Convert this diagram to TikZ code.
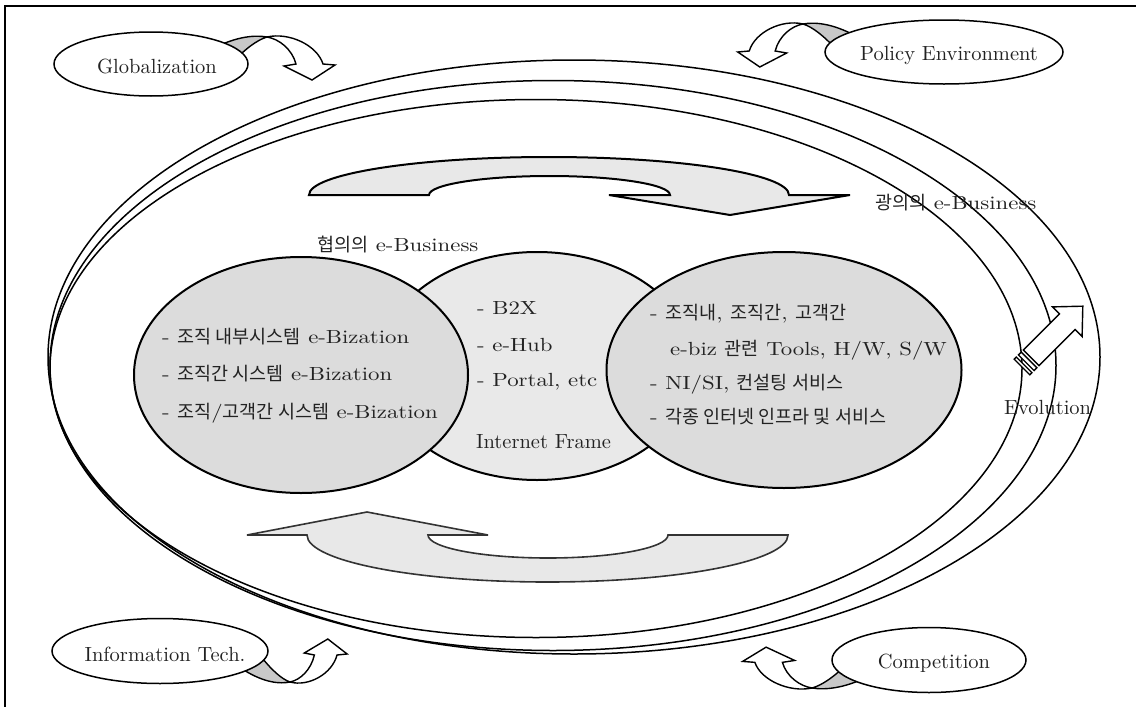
\documentclass[tikz,border=0pt]{standalone}
\usepackage{fontspec}
\usetikzlibrary{shapes.geometric}
\newfontfamily\krf{Noto Sans CJK KR}
\newfontfamily\vlat[FakeStretch=1.2]{lmroman10-regular.otf}
\newfontfamily\plat{lmroman10-regular.otf}
\newcommand\kr[1]{{\krf\fontsize{18.5}{21}\selectfont #1}}
\definecolor{txt}{HTML}{222222}
\definecolor{vennA}{HTML}{DCDCDC}
\definecolor{vennB}{HTML}{E9E9E9}
\definecolor{arrfill}{HTML}{E8E8E8}
\definecolor{band}{HTML}{C8C8C8}
\newcommand\curvarr{%
  \draw[grayband] (-55,12) .. controls (-30,-1) and (-12,-2) .. (0,0)
     .. controls (-10,3) and (-22,12) .. (-35,26) -- cycle;
  \draw[whiteband] (0,0) .. controls (22,-5) and (50,8) .. (56,27) -- (68,28) -- (45,43)
     -- (17,29) -- (29,27) .. controls (25,12) and (12,2) .. (0,0) -- cycle;}
\begin{document}
\begin{tikzpicture}[x=1pt,y=-1pt,
  bigell/.style={draw=black,line width=1.5pt},
  vennbox/.style={ellipse,draw=black,line width=2pt,inner sep=0pt},
  bigarrow/.style={fill=arrfill,draw=black,line width=2pt,line join=miter},
  lowarrow/.style={fill=arrfill,draw=black!80,line width=1.6pt,line join=miter},
  grayband/.style={fill=band,draw=black,line width=1.4pt},
  whiteband/.style={fill=white,draw=black,line width=1.4pt},
  labell/.style={ellipse,draw=black,line width=1.5pt,fill=white,inner sep=0pt},
  labtext/.style={inner sep=0pt,text=txt,font=\plat\fontsize{20.5}{24}\selectfont},
  vtext/.style={anchor=base west,inner sep=0pt,text=txt,font=\vlat\fontsize{19}{22}\selectfont},
  ltext/.style={anchor=base west,inner sep=0pt,text=txt,font=\plat\fontsize{20.5}{24}\selectfont},
  evoarrow/.style={fill=white,draw=black,line width=1.4pt}]
\useasboundingbox (0,0) rectangle (1136,707);
% frame
\draw[line width=1.2pt] (5,707) -- (5,6) -- (1136,6);
% big ellipses
\draw[bigell] (574,357) ellipse[x radius=526pt,y radius=297pt];
\draw[bigell] (553,365.5) ellipse[x radius=503pt,y radius=285pt];
\draw[bigell] (536,368.5) ellipse[x radius=486pt,y radius=269pt];
% top arrow
\draw[bigarrow] (309,195) arc[start angle=180,end angle=0,x radius=240pt,y radius=38pt]
  -- (850,195) -- (730,215) -- (609,195) -- (670,195)
  arc[start angle=0,end angle=180,x radius=120.5pt,y radius=19pt] -- cycle;
% bottom arrow
\draw[lowarrow] (247,535) -- (307,535)
  arc[start angle=180,end angle=360,x radius=240.5pt,y radius=47pt]
  -- (668,535) arc[start angle=0,end angle=-180,x radius=120pt,y radius=23pt]
  -- (488,535) -- (367,512) -- cycle;
% venn
\node[vennbox,fill=vennB,minimum width=316pt,minimum height=228pt] (M) at (537,366) {};
\node[vennbox,fill=vennA,minimum width=334pt,minimum height=236pt] (L) at (301,375) {};
\node[vennbox,fill=vennA,minimum width=355pt,minimum height=236pt] (R) at (784,370) {};
% texts
\node[vtext] (t1) at (317,251) {\kr{협의의} e-Business};
\node[vtext] (t2) at (875,209) {\kr{광의의} e-Business};
\node[vtext] (l1) at (162,343) {- \kr{조직 내부시스템} e-Bization};
\node[vtext] (l2) at (162,380) {- \kr{조직간 시스템} e-Bization};
\node[vtext] (l3) at (162,418) {- \kr{조직}/\kr{고객간 시스템} e-Bization};
\node[vtext] (m1) at (477,314) {- B2X};
\node[vtext] (m2) at (477,351) {- e-Hub};
\node[vtext] (m3) at (477,386) {- Portal, etc};
\node[ltext] (m4) at (476,448) {Internet Frame};
\node[vtext] (r1) at (650,319) {- \kr{조직내}, \kr{조직간}, \kr{고객간}};
\node[vtext] (r2) at (670,355) {e-biz \kr{관련} Tools, H/W, S/W};
\node[vtext] (r3) at (650,389) {- NI/SI, \kr{컨설팅 서비스}};
\node[vtext] (r4) at (650,423) {- \kr{각종 인터넷 인프라 및 서비스}};
% evolution arrow
\begin{scope}[shift={(1022,367)},rotate=45]
  \draw[evoarrow] (0,-11) rectangle (3,11);
  \draw[evoarrow] (6,-11) rectangle (10,11);
  \draw[evoarrow] (13,-11) -- (64,-11) -- (64,-21) -- (86,0) -- (64,21) -- (64,11) -- (13,11) -- cycle;
\end{scope}
\node[ltext] (evo) at (1004,414) {Evolution};
% curved arrows
\begin{scope}[shift={(267,37)}]\curvarr\end{scope}
\begin{scope}[shift={(803,24)},xscale=-0.96]\curvarr\end{scope}
\begin{scope}[shift={(290,682)},xscale=0.84,yscale=-1]\curvarr\end{scope}
\begin{scope}[shift={(812,688)},xscale=-1.02,yscale=-0.95]\curvarr\end{scope}
% label ellipses
\node[labell,minimum width=194pt,minimum height=64pt] (glob) at (151,64) {};
\node[labtext] (globt) at (157,66) {Globalization};
\node[labell,minimum width=238pt,minimum height=64pt] (pol) at (944,52) {};
\node[labtext] (polt) at (949,55) {Policy Environment};
\node[labell,minimum width=216pt,minimum height=65pt] (it) at (160,651) {};
\node[labtext] (itt) at (165,654) {Information Tech.};
\node[labell,minimum width=194pt,minimum height=65pt] (comp) at (929,660) {};
\node[labtext] (compt) at (934,663) {Competition};
\end{tikzpicture}
\end{document}
